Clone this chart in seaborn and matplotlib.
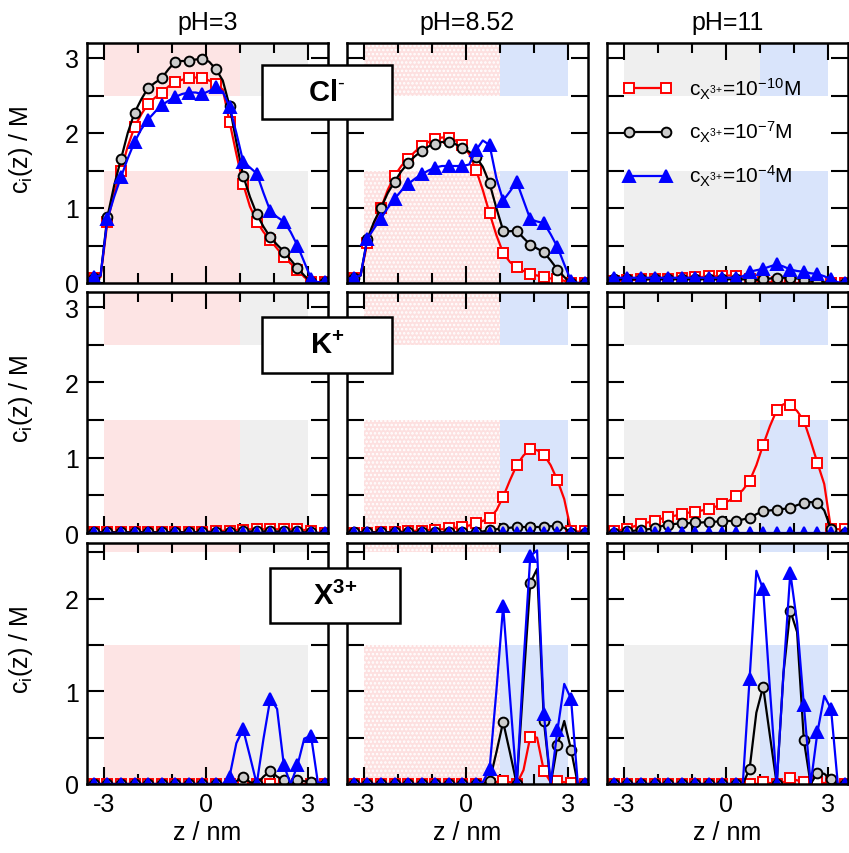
import numpy as np
import matplotlib
matplotlib.use('Agg')
import matplotlib.pyplot as plt
from matplotlib.patches import Rectangle
from matplotlib.lines import Line2D
from matplotlib.ticker import MultipleLocator, FixedLocator
import seaborn as sns

# z grid (nm); markers are drawn on every second point
z = np.round(np.linspace(-3.5, 3.5, 36), 1)

ph_labels = ['pH=3', 'pH=8.52', 'pH=11']
ion_labels = [r'Cl$^{\text{-}}$', r'K$^{{+}}$', r'X$^{3{+}}$']
conc_labels = [r'c$_{\mathregular{X^{3{+}}}}$=10$^{\mathregular{-10}}$M',
               r'c$_{\mathregular{X^{3{+}}}}$=10$^{\mathregular{-7}}$M',
               r'c$_{\mathregular{X^{3{+}}}}$=10$^{\mathregular{-4}}$M']

# ---- Cl- ----
cl_3_lo = [0.06, 0.07, 0.08, 0.81, 1.20, 1.50,
           1.82, 2.08, 2.25, 2.39, 2.47, 2.54,
           2.62, 2.68, 2.71, 2.73, 2.74, 2.73,
           2.70, 2.65, 2.58, 2.15, 1.72, 1.32,
           1.02, 0.82, 0.68, 0.57, 0.46, 0.35,
           0.26, 0.18, 0.08, 0.01, 0.01, 0.01]
cl_3_mid = [0.06, 0.07, 0.10, 0.88, 1.30, 1.65,
            2.00, 2.27, 2.45, 2.60, 2.67, 2.73,
            2.85, 2.95, 2.96, 2.96, 2.98, 2.99,
            2.95, 2.85, 2.70, 2.36, 1.88, 1.43,
            1.15, 0.92, 0.75, 0.61, 0.51, 0.42,
            0.31, 0.20, 0.10, 0.01, 0.01, 0.01]
cl_3_hi = [0.06, 0.08, 0.10, 0.85, 1.15, 1.41,
           1.66, 1.88, 2.05, 2.18, 2.28, 2.37,
           2.43, 2.48, 2.52, 2.54, 2.54, 2.52,
           2.56, 2.61, 2.55, 2.35, 2.00, 1.62,
           1.54, 1.46, 1.20, 0.96, 0.88, 0.82,
           0.68, 0.50, 0.28, 0.06, 0.01, 0.01]
cl_852_lo = [0.06, 0.07, 0.10, 0.54, 0.80, 1.00,
             1.24, 1.43, 1.56, 1.66, 1.75, 1.83,
             1.88, 1.92, 1.94, 1.94, 1.90, 1.84,
             1.72, 1.51, 1.24, 0.93, 0.64, 0.40,
             0.28, 0.21, 0.16, 0.12, 0.10, 0.08,
             0.06, 0.05, 0.03, 0.00, 0.00, 0.00]
cl_852_mid = [0.06, 0.07, 0.10, 0.59, 0.82, 1.00,
              1.20, 1.35, 1.49, 1.60, 1.69, 1.76,
              1.82, 1.86, 1.88, 1.88, 1.85, 1.80,
              1.75, 1.68, 1.55, 1.33, 1.00, 0.70,
              0.69, 0.70, 0.60, 0.51, 0.46, 0.41,
              0.30, 0.18, 0.08, 0.00, 0.00, 0.00]
cl_852_hi = [0.06, 0.07, 0.10, 0.59, 0.73, 0.86,
             1.00, 1.12, 1.23, 1.32, 1.39, 1.45,
             1.50, 1.54, 1.56, 1.56, 1.56, 1.56,
             1.58, 1.77, 1.90, 1.84, 1.40, 1.10,
             1.22, 1.35, 1.10, 0.85, 0.82, 0.80,
             0.65, 0.48, 0.25, 0.03, 0.00, 0.00]
cl_11_lo = [0.03, 0.03, 0.03, 0.04, 0.04, 0.05,
            0.05, 0.05, 0.06, 0.06, 0.06, 0.07,
            0.07, 0.08, 0.08, 0.09, 0.09, 0.09,
            0.10, 0.10, 0.08, 0.05, 0.03, 0.02,
            0.01, 0.01, 0.00, 0.00, 0.00, 0.00,
            0.00, 0.00, 0.00, 0.00, 0.00, 0.00]
cl_11_mid = [0.05, 0.05, 0.05, 0.05, 0.05, 0.05,
             0.05, 0.05, 0.05, 0.05, 0.05, 0.05,
             0.05, 0.05, 0.05, 0.05, 0.05, 0.05,
             0.05, 0.05, 0.05, 0.04, 0.04, 0.05,
             0.06, 0.07, 0.07, 0.07, 0.06, 0.04,
             0.03, 0.02, 0.01, 0.00, 0.00, 0.00]
cl_11_hi = [0.07, 0.07, 0.07, 0.07, 0.07, 0.07,
            0.07, 0.07, 0.07, 0.07, 0.07, 0.07,
            0.07, 0.07, 0.07, 0.07, 0.07, 0.07,
            0.07, 0.07, 0.09, 0.15, 0.17, 0.19,
            0.22, 0.25, 0.22, 0.18, 0.16, 0.15,
            0.13, 0.12, 0.09, 0.05, 0.01, 0.00]

# ---- K+ ----
k_3_lo = [0.01, 0.01, 0.01, 0.01, 0.01, 0.01,
          0.01, 0.01, 0.01, 0.01, 0.01, 0.01,
          0.01, 0.01, 0.01, 0.01, 0.01, 0.01,
          0.02, 0.02, 0.03, 0.03, 0.04, 0.04,
          0.05, 0.05, 0.05, 0.05, 0.05, 0.05,
          0.05, 0.05, 0.04, 0.02, 0.00, 0.00]
k_3_mid = [0.01, 0.01, 0.01, 0.01, 0.01, 0.01,
           0.01, 0.01, 0.01, 0.01, 0.01, 0.01,
           0.01, 0.01, 0.01, 0.01, 0.01, 0.01,
           0.01, 0.01, 0.01, 0.01, 0.01, 0.02,
           0.02, 0.02, 0.02, 0.02, 0.02, 0.02,
           0.02, 0.02, 0.01, 0.01, 0.00, 0.00]
k_3_hi = [0.005] * 36
k_852_lo = [0.00, 0.00, 0.00, 0.00, 0.01, 0.01,
            0.01, 0.01, 0.02, 0.02, 0.03, 0.03,
            0.04, 0.04, 0.05, 0.06, 0.07, 0.08,
            0.10, 0.13, 0.16, 0.20, 0.30, 0.48,
            0.70, 0.90, 1.03, 1.11, 1.10, 1.04,
            0.90, 0.70, 0.45, 0.03, 0.02, 0.02]
k_852_mid = [0.01, 0.01, 0.01, 0.01, 0.01, 0.01,
             0.01, 0.01, 0.01, 0.01, 0.01, 0.01,
             0.01, 0.01, 0.01, 0.01, 0.01, 0.01,
             0.01, 0.01, 0.02, 0.04, 0.05, 0.06,
             0.07, 0.08, 0.08, 0.08, 0.08, 0.08,
             0.09, 0.09, 0.07, 0.00, 0.00, 0.00]
k_852_hi = [0.005] * 36
k_11_lo = [0.00, 0.02, 0.04, 0.05, 0.09, 0.12,
           0.14, 0.16, 0.19, 0.21, 0.23, 0.25,
           0.27, 0.28, 0.30, 0.32, 0.35, 0.39,
           0.43, 0.49, 0.57, 0.69, 0.90, 1.17,
           1.42, 1.63, 1.71, 1.70, 1.62, 1.49,
           1.22, 0.93, 0.65, 0.05, 0.05, 0.05]
k_11_mid = [0.00, 0.00, 0.01, 0.02, 0.03, 0.04,
            0.05, 0.06, 0.09, 0.11, 0.12, 0.13,
            0.13, 0.14, 0.14, 0.15, 0.15, 0.16,
            0.16, 0.16, 0.18, 0.20, 0.25, 0.29,
            0.30, 0.31, 0.32, 0.33, 0.37, 0.40,
            0.41, 0.40, 0.30, 0.05, 0.00, 0.00]
k_11_hi = [0.005] * 36

# ---- X3+ ----
x_3_lo = [0.0] * 36
x_3_mid = [0, 0, 0, 0, 0, 0,
           0, 0, 0, 0, 0, 0,
           0, 0, 0, 0, 0, 0,
           0, 0, 0, 0, 0.03, 0.08,
           0.02, 0.00, 0.08, 0.14, 0.08, 0.04,
           0.00, 0.04, 0.03, 0.02, 0.00, 0.00]
x_3_hi = [0, 0, 0, 0, 0, 0,
          0, 0, 0, 0, 0, 0,
          0, 0, 0, 0, 0, 0,
          0, 0, 0.00, 0.08, 0.44, 0.59,
          0.30, 0.00, 0.49, 0.92, 0.81, 0.20,
          0.00, 0.20, 0.49, 0.52, 0.02, 0.00]
x_852_lo = [0, 0, 0, 0, 0, 0,
            0, 0, 0, 0, 0, 0,
            0, 0, 0, 0, 0, 0,
            0, 0, 0, 0.00, 0.02, 0.03,
            0.02, 0.00, 0.15, 0.51, 0.50, 0.14,
            0.02, 0.03, 0.02, 0.01, 0.00, 0.00]
x_852_mid = [0, 0, 0, 0, 0, 0,
             0, 0, 0, 0, 0, 0,
             0, 0, 0, 0, 0, 0,
             0, 0, 0, 0.03, 0.34, 0.67,
             0.34, 0.00, 1.10, 2.17, 2.32, 0.68,
             0.00, 0.42, 0.68, 0.37, 0.00, 0.00]
x_852_hi = [0, 0, 0, 0, 0, 0,
            0, 0, 0, 0, 0, 0,
            0, 0, 0, 0, 0, 0,
            0, 0, 0.02, 0.16, 1.00, 1.92,
            0.95, 0.00, 1.30, 2.46, 2.52, 0.76,
            0.00, 0.58, 1.08, 0.92, 0.00, 0.00]
x_11_lo = [0, 0, 0, 0, 0, 0,
           0, 0, 0, 0, 0, 0,
           0, 0, 0, 0, 0, 0,
           0, 0, 0, 0, 0, 0.02,
           0.01, 0.00, 0.02, 0.06, 0.04, 0.02,
           0.01, 0.02, 0.01, 0.02, 0.00, 0.00]
x_11_mid = [0, 0, 0, 0, 0, 0,
            0, 0, 0, 0, 0, 0,
            0, 0, 0, 0, 0, 0,
            0, 0, 0, 0.16, 0.77, 1.05,
            0.52, 0.00, 1.20, 1.87, 1.64, 0.47,
            0.00, 0.12, 0.11, 0.05, 0.00, 0.00]
x_11_hi = [0, 0, 0, 0, 0, 0,
           0, 0, 0, 0, 0, 0,
           0, 0, 0, 0, 0, 0,
           0, 0, 0.00, 1.13, 2.30, 2.10,
           1.02, 0.00, 1.20, 2.28, 1.74, 0.85,
           0.00, 0.56, 0.95, 0.81, 0.00, 0.00]

panels = [
    [(cl_3_lo, cl_3_mid, cl_3_hi), (cl_852_lo, cl_852_mid, cl_852_hi), (cl_11_lo, cl_11_mid, cl_11_hi)],
    [(k_3_lo, k_3_mid, k_3_hi), (k_852_lo, k_852_mid, k_852_hi), (k_11_lo, k_11_mid, k_11_hi)],
    [(x_3_lo, x_3_mid, x_3_hi), (x_852_lo, x_852_mid, x_852_hi), (x_11_lo, x_11_mid, x_11_hi)],
]
row_ymax = [3.2, 3.2, 2.6]

# ---- style ----
sns.set_style('ticks')
plt.rcParams['font.family'] = ['Liberation Sans', 'DejaVu Sans']
plt.rcParams['mathtext.fontset'] = 'custom'
plt.rcParams['mathtext.rm'] = 'Liberation Sans'
plt.rcParams['mathtext.it'] = 'Liberation Sans:italic'
plt.rcParams['mathtext.bf'] = 'Liberation Sans:bold'
plt.rcParams['mathtext.default'] = 'regular'
plt.rcParams['axes.unicode_minus'] = False
plt.rcParams['hatch.linewidth'] = 1.2
for key in ['text.color', 'axes.labelcolor', 'xtick.color', 'ytick.color', 'axes.edgecolor']:
    plt.rcParams[key] = 'black'

series_style = [
    dict(color='#ff0000', marker='s', markersize=7, markerfacecolor='white', markeredgecolor='#ff0000'),
    dict(color='black', marker='o', markersize=7, markerfacecolor='#cccccc', markeredgecolor='black'),
    dict(color='#0000ff', marker='^', markersize=8, markerfacecolor='#0000ff', markeredgecolor='#0000ff'),
]

PINK, PINK_DOT, GRAY, BLUE = 'pink', 'pinkdot', 'gray', 'blue'
col_bg = [(PINK, GRAY), (PINK_DOT, BLUE), (GRAY, BLUE)]


def add_band(ax, x0, x1, y0, y1, kind):
    kw = dict(lw=0, zorder=0.5)
    if kind == PINK:
        kw.update(facecolor='#fde4e4', edgecolor='#fde4e4')
    elif kind == GRAY:
        kw.update(facecolor='#efefef', edgecolor='#efefef')
    elif kind == BLUE:
        kw.update(facecolor='#d9e4fb', edgecolor='#d9e4fb')
    else:
        kw.update(facecolor='#fde0e0', edgecolor='white', hatch='....')
    ax.add_patch(Rectangle((x0, y0), x1 - x0, y1 - y0, **kw))


W, H = 849, 854
col_x = [87, 347, 607]
row_px = [(44, 284), (293, 534), (544, 785)]
axw = 241
FS = 18

fig = plt.figure(figsize=(W / 100, H / 100), dpi=100)
axes = []
for i in range(3):
    for j in range(3):
        top, bot = row_px[i]
        ax = fig.add_axes([col_x[j] / W, 1 - bot / H, axw / W, (bot - top) / H])
        axes.append(ax)
        left_kind, right_kind = col_bg[j]
        for (y0, y1) in [(-0.1, 1.5), (2.5, 3.5)]:
            add_band(ax, -3, 1, y0, y1, left_kind)
            add_band(ax, 1, 3, y0, y1, right_kind)

        for vals, st in zip(panels[i][j], series_style):
            sns.lineplot(x=z, y=vals, ax=ax, estimator=None, sort=False,
                         linewidth=1.6, markevery=(1, 2), markeredgewidth=1.4,
                         zorder=3, **st)

        ax.set_xlim(-3.5, 3.6)
        ax.set_ylim(0, row_ymax[i])
        ax.xaxis.set_major_locator(FixedLocator([-3, 0, 3]))
        ax.xaxis.set_minor_locator(MultipleLocator(1))
        ax.yaxis.set_major_locator(MultipleLocator(1))
        ax.yaxis.set_minor_locator(MultipleLocator(0.5))
        ax.tick_params(which='both', direction='in', top=True, right=True,
                       width=1.5, labelsize=FS, pad=6,
                       labelleft=(j == 0), labelbottom=(i == 2))
        ax.tick_params(axis='x', which='major', length=12)
        ax.tick_params(axis='x', which='minor', length=7)
        ax.tick_params(axis='y', which='both', length=12)
        for sp in ax.spines.values():
            sp.set_linewidth(1.8)
            sp.set_zorder(5)

        if i == 0:
            ax.set_title(ph_labels[j], fontsize=FS, pad=10)
        if i == 2:
            ax.set_xlabel('z / nm', fontsize=FS, labelpad=3)
        if j == 0:
            ax.set_ylabel(r'c$_{i}$(z) / M', fontsize=FS)
            ax.yaxis.set_label_coords(-0.215, 0.56)

# ion boxes, spanning the first two columns
boxes = [(262, 392, 66, 120), (262, 392, 318, 374), (270, 400, 569, 624)]
for (x0, x1, y0, y1), lab in zip(boxes, ion_labels):
    fig.add_artist(Rectangle((x0 / W, 1 - y1 / H), (x1 - x0) / W, (y1 - y0) / H,
                             transform=fig.transFigure, facecolor='white',
                             edgecolor='black', lw=1.8, zorder=10))
    fig.text((x0 + x1) / 2 / W, 1 - (y0 + y1) / 2 / H, lab, fontsize=21,
             fontweight='bold', ha='center', va='center', zorder=11)

# legend in the top right panel
handles = [Line2D([0], [0], linewidth=1.6, markeredgewidth=1.4, **st) for st in series_style]
axes[2].legend(handles, conc_labels, loc='upper left', frameon=False,
               bbox_to_anchor=(614 / W, 1 - 68 / H), bbox_transform=fig.transFigure,
               fontsize=15, handlelength=2.4, handletextpad=0.8, labelspacing=0.9,
               numpoints=2, borderaxespad=0)

fig.savefig('out.png', dpi=100)
